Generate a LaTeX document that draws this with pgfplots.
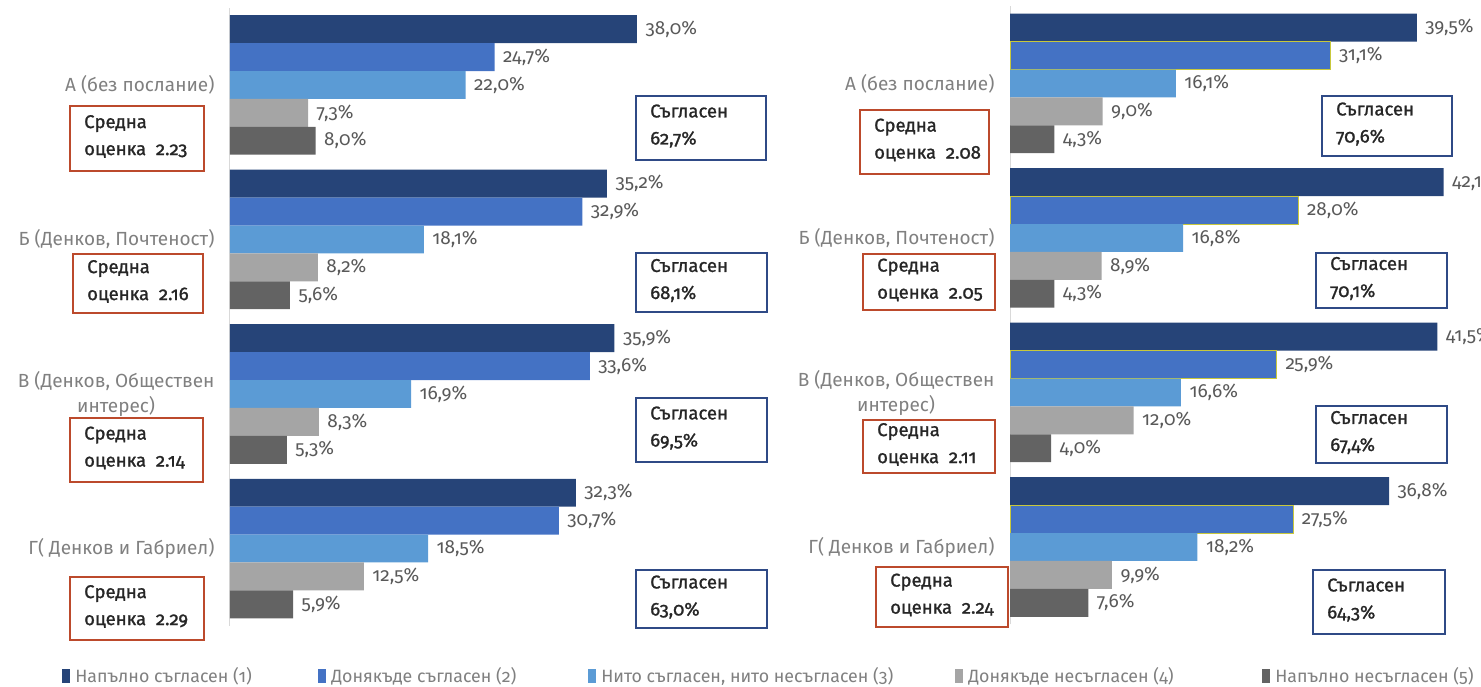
\documentclass[border=0pt]{standalone}
\usepackage{fontspec}
\setmainfont{Fira Sans}[Numbers=OldStyle]
\newfontfamily\boxfont{Fira Sans}[Numbers=OldStyle, FakeBold=1.2]
\usepackage{pgfplots}
\usepackage{pgfplotstable}
\pgfplotsset{compat=1.18}

\definecolor{c1}{HTML}{264478}
\definecolor{c2}{HTML}{4472C4}
\definecolor{c3}{HTML}{5B9BD5}
\definecolor{c4}{HTML}{A5A5A5}
\definecolor{c5}{HTML}{636363}
\definecolor{tickgray}{HTML}{808080}
\definecolor{valgray}{HTML}{595959}
\definecolor{redbox}{HTML}{BC4A2C}
\definecolor{bluebox}{HTML}{2F4A86}
\definecolor{edgey}{HTML}{C8C83C}

% g: 3 = А (top) ... 0 = Г (bottom)
\pgfplotstableread{
g s1 s2 s3 s4 s5
3 38.0 24.7 22.0 7.3 8.0
2 35.2 32.9 18.1 8.2 5.6
1 35.9 33.6 16.9 8.3 5.3
0 32.3 30.7 18.5 12.5 5.9
}\leftdata
\pgfplotstableread{
g s1 s2 s3 s4 s5
3 39.5 31.1 16.1 9.0 4.3
2 42.1 28.0 16.8 8.9 4.3
1 41.5 25.9 16.6 12.0 4.0
0 36.8 27.5 18.2 9.9 7.6
}\rightdata

\newcommand\lbl{\fontsize{19}{25}\selectfont}
\newcommand\lgd{\fontsize{17.8}{22}\selectfont}
\newcommand\bx{\boxfont\fontsize{18.5}{27}\selectfont}

\pgfplotsset{
  panel/.style={
    scale only axis, height=618pt,
    ymin=-0.5, ymax=3.5, xmin=0, xmax=40,
    xbar=0pt, bar width=27.9pt,
    hide x axis, axis y line*=left,
    y axis line style={draw=black!15, line width=1pt},
    ytick={0,1,2,3}, major tick length=0pt,
    yticklabels={{Г( Денков и Габриел)},{В (Денков, Обществен\\интерес)},{Б (Денков, Почтеност)},{А (без послание)}},
    yticklabel style={font=\lbl, text=tickgray, align=center, xshift=-12pt},
    clip=false,
    point meta=x,
    /pgf/number format/assume math mode=true,
    nodes near coords={\pgfmathprintnumber[fixed,fixed zerofill,precision=1,use comma]{\pgfplotspointmeta}\%},
    every node near coord/.append style={font=\lbl, text=valgray, anchor=west, xshift=5pt},
  },
}

\newcommand\rbox[5]{%
  \draw[redbox, line width=1.8pt] (#1,{686-#2}) rectangle (#3,{686-#4});
  \node[anchor=west, align=left, font=\bx, text=black!85, inner sep=0pt] at ({#1+14},{688-(#2+#4)/2}) {Средна\\оценка\ \ #5};}
\newcommand\bbox[5]{%
  \draw[bluebox, line width=1.8pt] (#1,{686-#2}) rectangle (#3,{686-#4});
  \node[anchor=west, align=left, font=\bx, text=black!85, inner sep=0pt] at ({#1+14},{688-(#2+#4)/2}) {Съгласен\\#5};}

\begin{document}
\begin{tikzpicture}[x=1pt,y=1pt]
\path[use as bounding box] (0,0) rectangle (1481,686);
\begin{scope}[overlay]
\clip (0,0) rectangle (1481,686);

\begin{axis}[panel, width=428.4pt, at={(230pt,60.25pt)}, anchor=south west,
  legend columns=5,
  legend style={at={(axis description cs:-0.392,-0.0813)}, anchor=west, draw=none,
    font=\lgd, text=tickgray, inner sep=0pt, nodes={inner sep=0pt}},
  legend image code/.code={\fill[#1] (0pt,-7pt) rectangle (8pt,7pt);},
]
\addplot[fill=c1, draw=none, bar shift=55.8pt] table[x=s1,y=g]{\leftdata};
\addplot[fill=c2, draw=none, bar shift=27.9pt] table[x=s2,y=g]{\leftdata};
\addplot[fill=c3, draw=none, bar shift=0pt] table[x=s3,y=g]{\leftdata};
\addplot[fill=c4, draw=none, bar shift=-27.9pt] table[x=s4,y=g]{\leftdata};
\addplot[fill=c5, draw=none, bar shift=-55.8pt] table[x=s5,y=g]{\leftdata};
\legend{\makebox[248pt][l]{\hspace{5pt}Напълно съгласен (1)},
  \makebox[262pt][l]{\hspace{5pt}Донякъде съгласен (2)},
  \makebox[359pt][l]{\hspace{5pt}Нито съгласен{,} нито несъгласен (3)},
  \makebox[299pt][l]{\hspace{5pt}Донякъде несъгласен (4)},
  \makebox[205pt][l]{\hspace{5pt}Напълно несъгласен (5)}}
\end{axis}

\begin{axis}[panel, width=412pt, at={(1010pt,61.75pt)}, anchor=south west]
\addplot[fill=c1, draw=none, bar shift=55.8pt] table[x=s1,y=g]{\rightdata};
\addplot[fill=c2, draw=edgey, line width=0.8pt, bar shift=27.9pt] table[x=s2,y=g]{\rightdata};
\addplot[fill=c3, draw=none, bar shift=0pt] table[x=s3,y=g]{\rightdata};
\addplot[fill=c4, draw=none, bar shift=-27.9pt] table[x=s4,y=g]{\rightdata};
\addplot[fill=c5, draw=none, bar shift=-55.8pt] table[x=s5,y=g]{\rightdata};
\end{axis}

\rbox{70}{106}{204}{171}{2.23}
\rbox{73}{254}{203}{313}{2.16}
\rbox{70}{418}{203}{482}{2.14}
\rbox{70}{577}{204}{640}{2.29}
\bbox{636}{96}{766}{160}{62,7\%}
\bbox{636}{253}{767}{312}{68,1\%}
\bbox{636}{398}{767}{462}{69,5\%}
\bbox{636}{570}{767}{628}{63,0\%}

\rbox{860}{110}{989}{174}{2.08}
\rbox{863}{254}{995}{310}{2.05}
\rbox{863}{420}{995}{473}{2.11}
\rbox{876}{567}{1008}{627}{2.24}
\bbox{1322}{96}{1452}{156}{70,6\%}
\bbox{1316}{253}{1447}{308}{70,1\%}
\bbox{1316}{406}{1447}{463}{67,4\%}
\bbox{1313}{570}{1445}{634}{64,3\%}
\end{scope}
\end{tikzpicture}
\end{document}
